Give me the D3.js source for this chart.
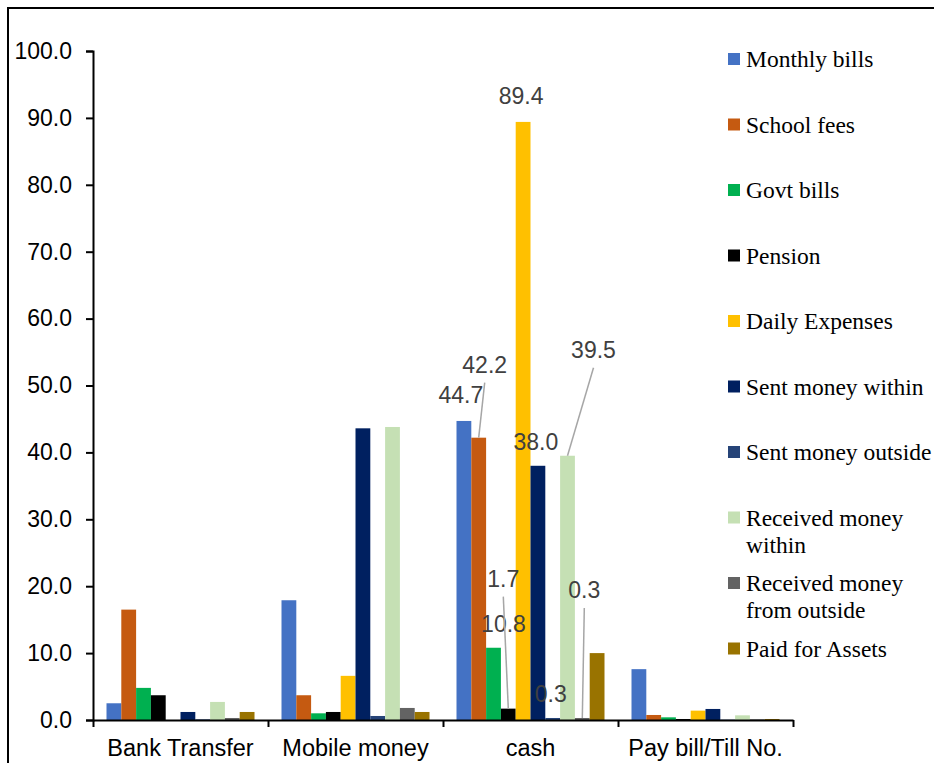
<!DOCTYPE html>
<html>
<head>
<meta charset="utf-8">
<script src="https://cdn.jsdelivr.net/npm/d3@7"></script>
<style>
  html, body { margin: 0; padding: 0; background: #fff; }
  svg { display: block; }
</style>
</head>
<body>
<script>
// Payment channels used for each kind of transaction (% of respondents)
const channels = ["Bank Transfer", "Mobile money", "cash", "Pay bill/Till No."];
const purposes = ["Monthly bills", "School fees", "Govt bills", "Pension", "Daily Expenses",
  "Sent money within", "Sent money outside", "Received money within",
  "Received money from outside", "Paid for Assets"];
const purposeColors = ["#4472C4", "#C55A11", "#00B050", "#000000", "#FFC000",
  "#002060", "#264478", "#C5E0B4", "#636363", "#997300"];

const bankTransfer = [2.5, 16.5, 4.8, 3.7, 0.0, 1.2, 0.1, 2.7, 0.3, 1.2];
const mobileMoney  = [17.9, 3.7, 1.0, 1.2, 6.6, 43.6, 0.6, 43.8, 1.8, 1.2];
const cash         = [44.7, 42.2, 10.8, 1.7, 89.4, 38.0, 0.3, 39.5, 0.3, 10.0];
const payBill      = [7.6, 0.75, 0.4, 0.15, 1.4, 1.65, 0.05, 0.7, 0.1, 0.15];
const channelValues = [bankTransfer, mobileMoney, cash, payBill];

const yTicks = [0, 10, 20, 30, 40, 50, 60, 70, 80, 90, 100];

// Which cash bars carry a value label, and where the label sits (offset from bar top, px)
const cashLabels = [
  { i: 0, dx: -3,  dy: -18,  leader: false },
  { i: 1, dx: 6,   dy: -65,  leader: true },
  { i: 2, dx: 10,  dy: -16,  leader: false },
  { i: 3, dx: -5,  dy: -122, leader: true },
  { i: 4, dx: -2,  dy: -18,  leader: false },
  { i: 5, dx: -2,  dy: -16,  leader: false },
  { i: 6, dx: -2,  dy: -16,  leader: false },
  { i: 7, dx: 26,  dy: -98,  leader: true },
  { i: 8, dx: 2,   dy: -120, leader: true }
];

const W = 934, H = 763;
const plot = { left: 93, right: 793, top: 51, bottom: 720 };
const sans = "Liberation Sans, Arial, sans-serif";
const serif = "Liberation Serif, Times New Roman, serif";

const svg = d3.select("body").append("svg").attr("width", W).attr("height", H);

// outer chart frame (runs past the right and bottom edges)
svg.append("rect")
  .attr("x", 8).attr("y", 8).attr("width", 1200).attr("height", 1200)
  .attr("fill", "none").attr("stroke", "#000").attr("stroke-width", 2);

const x0 = d3.scaleBand().domain(channels).range([plot.left, plot.right]).padding(0);
const x1 = d3.scaleBand().domain(purposes)
  .range([13.5, x0.bandwidth() - 13.5]).padding(0);
const y = d3.scaleLinear().domain([0, 100]).range([plot.bottom, plot.top]);
const color = d3.scaleOrdinal().domain(purposes).range(purposeColors);

// bars
const groups = svg.append("g").selectAll("g")
  .data(channels.map((c, k) => ({ channel: c, values: channelValues[k] })))
  .join("g")
  .attr("transform", d => `translate(${x0(d.channel)},0)`);

groups.selectAll("rect")
  .data(d => d.values.map((v, i) => ({ purpose: purposes[i], value: v })))
  .join("rect")
  .attr("x", d => x1(d.purpose))
  .attr("width", x1.bandwidth())
  .attr("y", d => y(d.value))
  .attr("height", d => y(0) - y(d.value))
  .attr("fill", d => color(d.purpose));

// y axis
const yAxis = svg.append("g")
  .attr("transform", `translate(${plot.left},0)`)
  .call(d3.axisLeft(y).tickValues(yTicks).tickFormat(d3.format(".1f")).tickSize(7).tickPadding(14));
yAxis.select(".domain").attr("stroke", "#000").attr("stroke-width", 2);
yAxis.selectAll(".tick line").attr("stroke", "#000").attr("stroke-width", 2);
yAxis.selectAll(".tick text")
  .attr("font-family", sans)
  .attr("font-size", 23).attr("fill", "#000");

// x axis
const xAxis = svg.append("g")
  .attr("transform", `translate(0,${plot.bottom})`)
  .call(d3.axisBottom(d3.scaleLinear().domain([0, 4]).range([plot.left, plot.right]))
    .tickValues([0, 1, 2, 3, 4]).tickFormat("").tickSize(7).tickSizeOuter(0));
xAxis.select(".domain").attr("stroke", "#000").attr("stroke-width", 2);
xAxis.selectAll(".tick line").attr("stroke", "#000").attr("stroke-width", 2);

svg.append("g").selectAll("text")
  .data(channels)
  .join("text")
  .attr("x", d => x0(d) + x0.bandwidth() / 2)
  .attr("y", 756)
  .attr("text-anchor", "middle")
  .attr("font-family", sans)
  .attr("font-size", 23.5)
  .attr("fill", "#000")
  .text(d => d);

// value labels on the cash bars
const cashX = x0("cash");
const labelG = svg.append("g");
cashLabels.forEach(l => {
  const cx = cashX + x1(purposes[l.i]) + x1.bandwidth() / 2;
  const top = y(cash[l.i]);
  const lx = cx + l.dx, ly = top + l.dy;
  if (l.leader) {
    labelG.append("line")
      .attr("x1", lx).attr("y1", ly + 10)
      .attr("x2", cx).attr("y2", top)
      .attr("stroke", "#A6A6A6").attr("stroke-width", 1.5);
  }
  labelG.append("text")
    .attr("x", lx).attr("y", ly)
    .attr("text-anchor", "middle")
    .attr("font-family", sans)
    .attr("font-size", 23)
    .attr("fill", "#404040")
    .text(d3.format(".1f")(cash[l.i]));
});

// legend
const legendRows = [
  ["Monthly bills"], ["School fees"], ["Govt bills"], ["Pension"], ["Daily Expenses"],
  ["Sent money within"], ["Sent money outside"], ["Received money", "within"],
  ["Received money", "from outside"], ["Paid for Assets"]
];
const legend = svg.append("g");
purposes.forEach((p, i) => {
  const cy = 59 + i * 65.5;
  const g = legend.append("g");
  g.append("rect")
    .attr("x", 728).attr("y", cy - 6).attr("width", 12).attr("height", 12)
    .attr("fill", color(p));
  const t = g.append("text")
    .attr("x", 746).attr("y", cy + 8)
    .attr("font-family", serif)
    .attr("font-size", 23.5)
    .attr("fill", "#000");
  legendRows[i].forEach((line, j) => {
    t.append("tspan").attr("x", 746).attr("dy", j === 0 ? 0 : 27).text(line);
  });
});
</script>
</body>
</html>
